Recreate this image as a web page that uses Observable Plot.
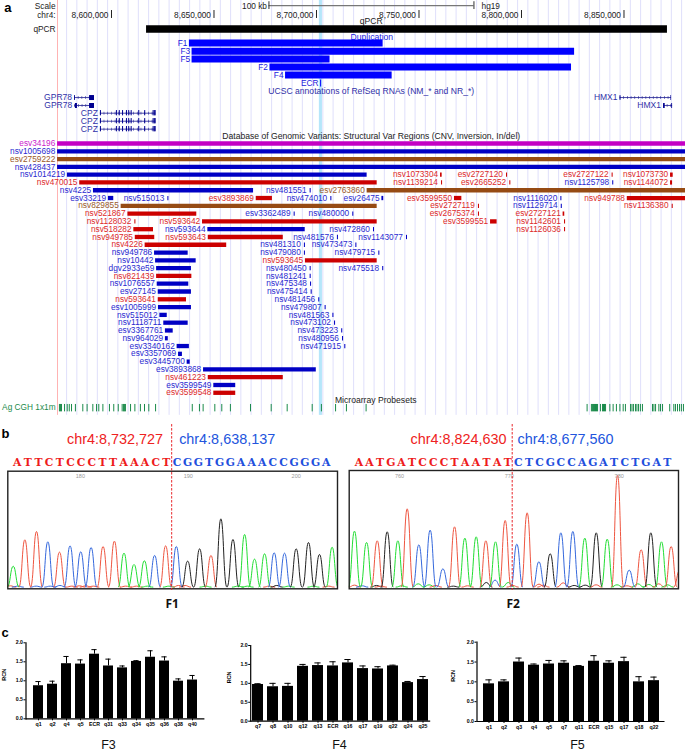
<!DOCTYPE html>
<html><head><meta charset="utf-8">
<script src="https://cdn.jsdelivr.net/npm/d3@7"></script>
<script src="https://cdn.jsdelivr.net/npm/@observablehq/plot@0.6"></script>
<style>html,body{margin:0;padding:0;background:#fff}#root{position:relative;width:685px;height:751px;overflow:hidden}</style>
</head><body><div id="root"></div>
<script>
// Panel a: all genomic positions are kb offsets from chr4:8,600,000; rows are track lines
const blueSv = [
["nsv1005698",1,-26.3,280],["nsv428437",3,-26.3,280],["nsv1014219",4,-21.5,124.7],["nsv4225",6,-8.8,69.3],
["nsv481551",6,96.9,97.4],["esv33219",7,-1.5,1.1],["nsv515013",7,27.5,28],["nsv474010",7,107,107.5],
["esv26475",7,131.9,132.8],["nsv1116020",7,219.2,219.7],["nsv1129714",8,219.4,219.9],["esv3362489",9,89.1,89.6],
["nsv480000",9,117.7,118.2],["nsv593644",11,47,94.5],["nsv472860",11,127.8,128.3],["nsv481576",12,110.2,110.7],
["nsv1143077",12,143.9,144.4],["nsv481310",13,94.1,94.6],["nsv473473",13,119.2,119.7],["nsv949786",14,21,37.4],
["nsv479080",14,94.1,94.6],["nsv479715",14,130.4,130.9],["nsv10442",15,21.5,41.3],["dgv2933e59",16,22,39],
["nsv480450",16,96.9,97.4],["nsv475518",16,132.3,132.8],["nsv481241",17,96.9,97.4],["nsv1076557",18,22.3,37.7],
["nsv475348",18,97.1,97.6],["esv27145",19,22.8,39],["nsv475414",19,97.4,97.9],["nsv481456",20,101.1,101.6],
["esv1005999",21,22.9,39],["nsv479807",21,104.2,104.7],["nsv515012",22,23.6,27.2],["nsv481563",22,108,108.5],
["nsv1118711",23,25.5,37.4],["nsv473102",23,108.8,109.3],["esv3367761",24,26.3,30.1],["nsv473223",24,112.3,112.8],
["nsv964029",25,26.3,27.7],["nsv480956",25,112.7,113.2],["esv3340162",26,32,38],["nsv471915",26,113.8,114.3],
["esv3357069",27,32.7,34.6],["esv3445700",28,36.9,38.4],["esv3893868",29,44.9,99.9],["esv3599549",31,49.9,60.6],
["nsv1125798",5,244.5,245]];
const redSv = [
["nsv470015",5,-15.5,129.6],["nsv1073304",4,160.5,161.3],["esv2727120",4,192.7,193.2],["esv2727122",4,244.2,244.7],
["nsv1073730",4,272.7,274],["nsv1139214",5,161,161.5],["esv2665252",5,194.3,194.8],["nsv1144072",5,272.7,273.7],
["esv3893869",7,70.6,78.5],["esv3599550",7,167.3,170.9],["nsv949788",7,251.6,280],["esv2727119",8,179,179.5],
["nsv1136380",8,273.5,274],["nsv521867",9,8,41.6],["esv2675374",9,179,179.5],["esv2727121",9,220.3,221.1],
["nsv1128032",10,11.4,11.9],["nsv593642",10,44.4,129.6],["esv3599551",10,184.9,188.1],["nsv1142601",10,221,221.5],
["nsv518282",11,10.9,20.5],["nsv1126036",11,221,221.5],["nsv949785",12,11.6,21.1],["nsv593643",12,47.2,83.8],
["nsv4226",13,16.4,56.2],["nsv593645",15,94.6,129.6],["nsv821439",17,22,39.2],["nsv593641",20,22.8,36.6],
["nsv461223",30,47.2,83.8],["esv3599548",32,49.9,60.6]];
const brownSv = [["esv2759222",2,-26.3,280],["esv2763860",6,124.7,280],["nsv829855",8,4.7,129.6]];
const magentaSv = [["esv34196",0,-26.3,280]];
const dupTracks = [["F1",-12.9,38,132.5],["F3",-11.84,39.3,225.9],["F5",-10.85,39.3,106.6],["F2",-9.82,77.3,224.4],["F4",-8.79,84.9,136.9],["ECR",-7.77,102,102.5]];
const qpcrRegion = [17.1,271.2];
const coordTicks = [0,50,100,150,200,250];
const coordLabels = ["8,600,000","8,650,000","8,700,000","8,750,000","8,800,000","8,850,000"];
const gridKb = [-21.9,-16.9,-11.9,-6.9,-1.9,3.1,8.1,13.1,18.1,23.1,28.1,33.1,38.1,43.1,48.1,53.1,58.1,63.1,68.1,73.1,78.1,83.1,88.1,93.1,98.1,103.1,108.1,113.1,118.1,123.1,128.1,133.1,138.1,143.1,148.1,153.1,158.1,163.1,168.1,173.1,178.1,183.1,188.1,193.1,198.1,203.1,208.1,213.1,218.1,223.1,228.1,233.1,238.1,243.1,248.1,253.1,258.1,263.1,268.1,273.1,278.1];
const genes = [["GPR78",-5.9,-18,-8.3],["GPR78",-4.88,-17.9,-8.3],["CPZ",-3.89,-5.4,21.6],["CPZ",-2.86,-5.4,21.6],["CPZ",-1.84,-5.4,21.6],["HMX1",-5.9,248.1,273.2],["HMX1",-4.88,269.3,273.7]];
const exons = [[-5.9,-10.7,-8.3],[-5.9,-18,-17.6],[-4.88,-10.7,-8.3],[-4.88,-17.6,-16.6],[-5.9,248.1,248.5],[-5.9,272.9,273.2],[-4.88,269.3,270.1],[-4.88,273.3,273.7]];
const cpzExonKb = [-5.4,2.4,3.8,5.4,7.3,8.4,9.6,13.3,16.2,20.3,20.9,21.3];
const cpzRows = [-3.89,-2.86,-1.84];
const probes = [-25.4,-24.9,-24.4,-22.9,-21.6,-20.6,-19.5,-17.6,-14,-11.9,-9.1,-7.3,-6.2,-4.2,-1,1.1,3.3,5.2,5.9,6.3,6.8,9.3,11.4,14.1,16.1,18.2,21.5,39.4,42.9,44.7,50.4,53.8,58,67.8,77.9,85.7,97.9,102.4,109.3,114.6,124.2,232,234.1,234.6,235.1,235.6,236.1,236.6,237.1,238.5,239.5,240,240.5,241,243.1,244.7,246.3,248,249.6,250.7,253.2,253.9,254.6,255.6,256.3,257.1,258,259,263.9,264.6,265.4,267,267.8,268.8,272.3,274.3,275.1,276.1,277.1,278,279];

// Panel b: peak positions (base number), heights and called bases
const f1Pos = [173.77,174.85,175.93,176.98,178.06,179.04,180.03,180.99,182.1,183.15,184.04,184.97,185.93,186.88,187.9,188.89,189.94,191.05,192.1,193.02,194.14,195.22,196.14,197.07,197.96,198.92,200,201.14,202.16,203.33];
const f1Height = [63,142,167,136,105,124,106,119,122,138,102,68,79,95,124,122,78,115,95,205,143,158,84,100,103,102,115,134,98,120];
const f1Base = "GRRBRBBBRRGGGBRBKKRKKGGGBBKKKG";
const f1NoisePos = [173.5,174.2,175.9,177.2,178.1,179.2,179.9,180.5,181.2,184.2,185.2,186.2,188.2,189.1,189.7,191.6,194.6,195.5,197.5,198.2,199.3,201.6,203];
const f1NoiseHeight = [4,3,3,3,5,3,4,4,3,3,3,3,3,5,5,3,3,3,3,5,3,3,3];
const f1NoiseBase = "RBBBBRRRRRRGGRRGGGRKGGR";
const f2Pos = [755.9,757,757.97,758.88,759.85,760.7,761.76,762.79,763.95,765.01,765.95,766.98,767.86,768.74,769.62,770.68,771.62,772.69,773.72,774.69,775.78,776.87,777.91,778.91,779.85,780.91,782,782.88,783.85,784.73,785.5];
const f2Height = [168,134,139,166,139,235,127,171,55,181,147,151,139,136,200,129,223,76,100,163,167,147,163,144,335,51,112,163,136,122,50];
const f2Base = "GGRKGRBBBRGGRGRBRBKBBGKGRBRKGRR";
const f2NoisePos = [755.9,756.6,757.9,758.3,760.2,761.7,762.7,763.3,764.9,766.2,767.9,768.7,769.9,770.3,772.7,773.1,774.9,775.9,776.9,777.9,779.8,780.7,781.7,782.7,783.6,784.4];
const f2NoiseHeight = [6,4,5,3,4,10,7,5,3,4,14,21,14,5,9,6,13,5,6,7,7,4,10,8,10,7];
const f2NoiseBase = "RBKRGGGRKRKBGRRRRKKRGRGGRG";
const baseColor = {G:"#22dd33",R:"#ee5540",B:"#3568dc",K:"#222222"};
const seq1Red = "ATTCTCCCTTAAACT", seq1Blue = "CGGTGGAAACCGGGA";
const seq2Red = "AATGATCCCTAATAT", seq2Blue = "CTCGCCAGATCTGAT";

// Panel c: relative copy number, mean and upper error
const f3Names = ["q1","q2","q4","q5","ECR","q31","q33","q34","q35","q36","q38","q40"];
const f3Mean = [0.87,0.91,1.45,1.44,1.70,1.39,1.34,1.51,1.62,1.52,0.99,1.02];
const f3Upper = [0.98,0.99,1.64,1.55,1.82,1.57,1.39,1.53,1.79,1.63,1.05,1.14];
const f4Names = ["q7","q8","q10","q12","q13","ECR","q16","q17","q19","q22","q24","q25"];
const f4Mean = [0.97,0.91,0.92,1.45,1.47,1.46,1.54,1.39,1.38,1.46,1.02,1.10];
const f4Upper = [0.99,1.00,1.00,1.50,1.54,1.57,1.63,1.46,1.44,1.48,1.05,1.18];
const f5Names = ["q1","q2","q3","q4","q5","q7","q11","ECR","q15","q17","q18","q22"];
const f5Mean = [0.95,1.00,1.50,1.42,1.45,1.47,1.39,1.52,1.47,1.51,1.00,1.03];
const f5Upper = [1.05,1.05,1.60,1.45,1.54,1.53,1.41,1.66,1.53,1.62,1.13,1.12];

const root = document.getElementById("root");
const SANS = "Liberation Sans, Arial, sans-serif";
function mount(svg){ root.appendChild(svg); }
const place = (l,t)=>({position:"absolute",left:l+"px",top:t+"px",fontFamily:SANS,background:"transparent",overflow:"visible"});

// ---------- Panel a ----------
const svCols = {blue:["#0000c4","#2a2ad0"],red:["#cc0000","#dd2a2a"],brown:["#964b14","#9a5a2a"],magenta:["#c400c4","#cc22cc"]};
const toRows = (list,k)=>list.map(([name,row,start,end])=>({name,row,start,end,bar:svCols[k][0],ink:svCols[k][1]}));
const sv = [...toRows(magentaSv,"magenta"),...toRows(blueSv,"blue"),...toRows(brownSv,"brown"),...toRows(redSv,"red")];
const dup = dupTracks.map(([name,row,start,end])=>({name,row,start,end}));
const geneRows = genes.map(([name,row,start,end])=>({name,row,start,end}));
const exonRows = exons.map(([row,start,end])=>({row,start,end}));
const cpzTicks = cpzRows.flatMap(row=>cpzExonKb.map(kb=>({row,kb})));
const FS = 8.3;
const labelL = (txt,row,fill,fs)=>Plot.text([txt],{x:-26.3,y:row,text:d=>d,textAnchor:"end",dx:-2,fill,fontSize:fs||FS});
const labelC = (txt,kb,row,fill)=>Plot.text([txt],{x:kb,y:row,text:d=>d,fill,fontSize:FS+.3});

mount(Plot.plot({
  width:685,height:420,margin:0,style:place(0,0),
  x:{domain:[-26.34,280],range:[57,685],axis:null},
  y:{domain:[-18.357,35.558],range:[0,420],axis:null},
  marks:[
    Plot.rectX([1],{x1:101.4,x2:102.9,y1:-18.357,y2:34.9,fill:"#b5e6fa"}),
    Plot.ruleX(gridKb,{y1:-18.357,y2:34.9,stroke:"#dfdffb",strokeWidth:1}),
    Plot.ruleX([-26.34],{y1:-18.357,y2:34.9,stroke:"#ffb3b3",strokeWidth:1}),
    Plot.text(["a"],{x:-50.6,y:-17.4,text:d=>d,fontSize:13,fontWeight:"bold",fill:"#000",textAnchor:"middle"}),
    labelL("Scale",-17.6,"#222"),labelL("chr4:",-16.43,"#222"),
    Plot.text(["100 kb"],{x:76.8,y:-17.6,text:d=>d,textAnchor:"end",dx:-2,fill:"#222",fontSize:FS}),
    Plot.ruleY([-17.7],{x1:76.8,x2:176.8,stroke:"#777",strokeWidth:1.2}),
    Plot.ruleX([76.8,176.8],{y1:-18.2,y2:-17.2,stroke:"#333",strokeWidth:1}),
    Plot.text(["hg19"],{x:180.5,y:-17.6,text:d=>d,textAnchor:"start",fill:"#222",fontSize:FS}),
    Plot.ruleX(coordTicks,{y1:-17.07,y2:-16.05,stroke:"#222",strokeWidth:1}),
    Plot.text(coordTicks,{x:d=>d,y:-16.43,text:(d,i)=>coordLabels[i],textAnchor:"end",dx:-3,fill:"#222",fontSize:FS}),
    labelL("qPCR",-14.7,"#222"),
    labelC("qPCR",126.7,-15.66,"#222"),
    Plot.ruleY([-14.7],{x1:qpcrRegion[0],x2:qpcrRegion[1],stroke:"#000",strokeWidth:7.5}),
    labelC("Duplication",127,-13.6,"#2222dd"),
    Plot.ruleY(dup,{y:"row",x1:"start",x2:"end",stroke:"#0000ff",strokeWidth:7}),
    Plot.text(dup,{x:"start",y:"row",text:"name",textAnchor:"end",dx:-2,fill:"#2222dd",fontSize:FS}),
    labelC("UCSC annotations of RefSeq RNAs (NM_* and NR_*)",126.7,-6.67,"#3030a8"),
    Plot.ruleY(geneRows,{y:"row",x1:"start",x2:"end",stroke:"#1c1c90",strokeWidth:.8}),
    Plot.ruleY(geneRows,{y:"row",x1:"start",x2:"end",stroke:"#1c1c90",strokeWidth:3,strokeDasharray:"0.7 3",strokeOpacity:.75}),
    Plot.ruleY(exonRows,{y:"row",x1:"start",x2:"end",stroke:"#000090",strokeWidth:5}),
    Plot.ruleX(cpzTicks,{x:"kb",y1:d=>d.row-.34,y2:d=>d.row+.34,stroke:"#000090",strokeWidth:1}),
    Plot.text(geneRows,{x:"start",y:"row",text:"name",textAnchor:"end",dx:-2.6,fill:"#3030a8",fontSize:FS+.2}),
    labelC("Database of Genomic Variants: Structural Var Regions (CNV, Inversion, In/del)",126.7,-.9,"#222"),
    Plot.ruleY(sv,{y:"row",x1:"start",x2:"end",stroke:"bar",strokeWidth:4.3}),
    Plot.text(sv,{filter:d=>d.end-d.start>=0.7,x:"start",y:"row",text:"name",textAnchor:"end",dx:-2.3,fill:"ink",fontSize:FS}),
    Plot.text(sv,{filter:d=>d.end-d.start<0.7,x:"start",y:"row",text:"name",textAnchor:"end",dx:-3.6,fill:"ink",fontSize:FS}),
    Plot.text(["Microarray Probesets"],{x:109,y:32.95,text:d=>d,textAnchor:"start",fill:"#222",fontSize:FS+.3}),
    labelL("Ag CGH 1x1m",33.9,"#1a8a4a"),
    Plot.ruleX(probes,{y1:33.5,y2:34.45,stroke:"#1a8a4a",strokeWidth:1})
  ]
}));

// ---------- Panel b ----------
function traces(pos,height,base,prefix){
  return pos.flatMap((p,i)=>{
    const id=prefix+i, c=baseColor[base[i]];
    return [{id,c,x:p-.52,y:0},{id,c,x:p,y:height[i]},{id,c,x:p+.52,y:0}];
  });
}
function chromatogram(o){
  const data=[...traces(o.nPos,o.nH,o.nB,"n"),...traces(o.pos,o.h,o.b,"p")];
  const letters=[...o.red].map((t,i)=>({t,i,c:"#ee1c1c"})).concat([...o.blue].map((t,i)=>({t,i:i+o.red.length,c:"#1f50dd"})));
  return Plot.plot({
    width:345,height:200,style:place(o.left,420),
    marginLeft:o.mL,marginRight:o.mR,marginTop:o.mT,marginBottom:31.7,
    x:{domain:o.xd,axis:null},y:{domain:o.yd,axis:null},
    marks:[
      Plot.line(data,{x:"x",y:"y",z:"id",stroke:"c",curve:"bump-x",strokeWidth:1,clip:true}),
      Plot.frame({stroke:"#222",strokeWidth:1.4}),
      Plot.text(o.ticks,{x:d=>d,y:332,text:d=>String(d),fill:"#999",fontSize:5.5}),
      Plot.ruleX([o.cut],{y1:488,y2:-10,stroke:"#e8262a",strokeWidth:1,strokeDasharray:"2.5 1.5"}),
      Plot.text([o.t1],{x:o.tx1,y:444,text:d=>d,fill:"#ee2222",fontSize:14.4}),
      Plot.text([o.t2],{x:o.tx2,y:444,text:d=>d,fill:"#2255dd",fontSize:14.4}),
      Plot.text(letters,{x:d=>o.seq0+d.i*o.seqStep,y:374,text:"t",fill:"c",fontFamily:"DejaVu Serif",fontWeight:"bold",fontSize:10.8}),
      Plot.text([o.name],{x:o.nameX,y:-52,text:d=>d,fontWeight:"bold",fontSize:12,fill:"#111",fontFamily:"Open Sans"}),
      ...(o.tag?[Plot.text([o.tag],{x:o.tagX,y:461,text:d=>d,fontWeight:"bold",fontSize:13,fill:"#000"})]:[])
    ]
  });
}
mount(chromatogram({left:0,mL:7.3,mR:8,mT:50.7,xd:[173.27,203.83],yd:[-5,348],
  pos:f1Pos,h:f1Height,b:f1Base,nPos:f1NoisePos,nH:f1NoiseHeight,nB:f1NoiseBase,ticks:[180,190,200],cut:188.46,
  t1:"chr4:8,732,727",t2:"chr4:8,638,137",tx1:183.2,tx2:193.6,red:seq1Red,blue:seq1Blue,seq0:174.14,seqStep:.9876,
  name:"F1",nameX:188.5,tag:"b",tagX:173.06}));
mount(chromatogram({left:340,mL:8.7,mR:7,mT:50,xd:[755.42,785.4],yd:[-5,350],
  pos:f2Pos,h:f2Height,b:f2Base,nPos:f2NoisePos,nH:f2NoiseHeight,nB:f2NoiseBase,ticks:[760,770,780],cut:770.26,
  t1:"chr4:8,824,630",t2:"chr4:8,677,560",tx1:765.37,tx2:775.11,red:seq2Red,blue:seq2Blue,seq0:756.3,seqStep:.968,
  name:"F2",nameX:770.35}));

// ---------- Panel c ----------
function barPanel(o){
  const rows=o.names.map((name,i)=>({name,mean:o.mean[i],upper:o.upper[i]}));
  const top=630,h=121;
  return Plot.plot({
    width:o.w,height:h,style:place(o.left,top),
    marginLeft:o.x0-o.left,marginRight:o.left+o.w-o.x1,marginTop:o.y2-top,marginBottom:top+h-o.y0,
    x:{domain:o.names,type:"band",paddingInner:.28,paddingOuter:.14,axis:null},
    y:{domain:[0,2],axis:null},
    marks:[
      Plot.barY(rows,{x:"name",y:"mean",fill:"#000"}),
      Plot.ruleX(rows,{x:"name",y1:"mean",y2:"upper",stroke:"#000",strokeWidth:1}),
      Plot.tickY(rows,{x:"name",y:"upper",stroke:"#000",strokeWidth:1,insetLeft:2.4,insetRight:2.4}),
      Plot.ruleY([0],{stroke:"#000",strokeWidth:1.2}),
      Plot.frame({anchor:"left",stroke:"#000",strokeWidth:1.2}),
      Plot.axisX({anchor:"bottom",tickSize:2,tickPadding:1.5,fontSize:5.2,fontWeight:"bold",label:null,stroke:"#000",fill:"#000"}),
      Plot.axisY({anchor:"left",ticks:[0,.5,1,1.5,2],tickFormat:d3.format(".1f"),tickSize:2,tickPadding:1,fontSize:5.2,fontWeight:"bold",label:null,stroke:"#000",fill:"#000"}),
      Plot.text(["RCN"],{frameAnchor:"left",y:1,dx:o.rcnX-o.x0,rotate:-90,text:d=>d,fontSize:5.5,fontWeight:"bold",fill:"#000"}),
      Plot.text([o.title],{frameAnchor:"bottom-left",dx:o.titleX-o.x0,dy:744-o.y0,text:d=>d,textAnchor:"middle",lineAnchor:"middle",fontSize:12.5,fill:"#111"}),
      ...(o.tag?[Plot.text([o.tag],{frameAnchor:"top-left",dx:4.5-o.x0,dy:632-o.y2,text:d=>d,textAnchor:"middle",lineAnchor:"middle",fontSize:13,fontWeight:"bold",fill:"#000"})]:[])
    ]
  });
}
mount(barPanel({left:0,w:230,x0:25.5,x1:204.4,y0:718.3,y2:642.3,names:f3Names,mean:f3Mean,upper:f3Upper,title:"F3",titleX:108,rcnX:4,tag:"c"}));
mount(barPanel({left:225,w:230,x0:250.2,x1:430.2,y0:720.7,y2:645,names:f4Names,mean:f4Mean,upper:f4Upper,title:"F4",titleX:339,rcnX:229}));
mount(barPanel({left:450,w:235,x0:476.5,x1:664.5,y0:721,y2:641.7,names:f5Names,mean:f5Mean,upper:f5Upper,title:"F5",titleX:577,rcnX:453}));
</script></body></html>
